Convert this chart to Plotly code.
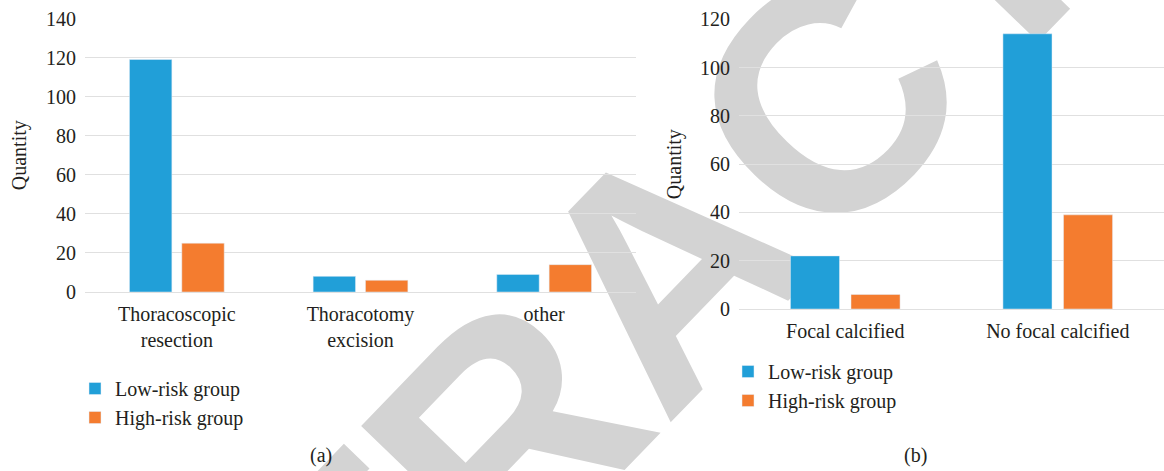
import plotly.graph_objects as go

# ---------------- data ----------------
cat_a = ["Thoracoscopic<br>resection", "Thoracotomy<br>excision", "other"]
low_a = [119, 8, 9]
high_a = [25, 6, 14]

cat_b = ["Focal calcified", "No focal calcified"]
low_b = [22, 114]
high_b = [6, 39]

series_names = ["Low-risk group", "High-risk group"]
ticks_a = [0, 20, 40, 60, 80, 100, 120, 140]
ticks_b = [0, 20, 40, 60, 80, 100, 120]

# ---------------- style ----------------
W, H = 1164, 471
BLUE = "#219fd8"
ORANGE = "#f47c2f"
GRID = "#e0e0e0"
TXT = "#231f20"
SERIF = "Liberation Serif"
FS = 20

def px(x):
    return x / W

def py(y):
    return 1 - y / H

fig = go.Figure()

fig.add_trace(go.Bar(x=cat_a, y=low_a, name=series_names[0], marker_color=BLUE,
                     xaxis="x", yaxis="y", legend="legend"))
fig.add_trace(go.Bar(x=cat_a, y=high_a, name=series_names[1], marker_color=ORANGE,
                     xaxis="x", yaxis="y", legend="legend"))
fig.add_trace(go.Bar(x=cat_b, y=low_b, name=series_names[0], marker_color=BLUE,
                     xaxis="x2", yaxis="y2", legend="legend2"))
fig.add_trace(go.Bar(x=cat_b, y=high_b, name=series_names[1], marker_color=ORANGE,
                     xaxis="x2", yaxis="y2", legend="legend2"))

axis_font = dict(family=SERIF, size=FS, color=TXT)

common_x = dict(showgrid=False, showline=False, zeroline=False, ticks="",
                tickfont=axis_font, ticklabelstandoff=8, fixedrange=True,
                automargin=False)
common_y = dict(showgrid=True, gridcolor=GRID, gridwidth=1.3, zeroline=True,
                zerolinecolor=GRID, zerolinewidth=1.3, showline=False, ticks="",
                tickfont=axis_font, ticklabelstandoff=8, fixedrange=True,
                automargin=False)

legend_common = dict(font=dict(family=SERIF, size=FS, color=TXT),
                     bgcolor="rgba(0,0,0,0)", orientation="v",
                     xanchor="left", yanchor="top", tracegroupgap=0,
                     itemclick=False, itemdoubleclick=False)

fig.update_layout(
    width=W, height=H,
    margin=dict(l=0, r=0, t=0, b=0, pad=0, autoexpand=False),
    paper_bgcolor="white", plot_bgcolor="rgba(0,0,0,0)",
    barmode="group", bargap=0.43, bargroupgap=0.19,
    showlegend=True,
    xaxis=dict(domain=[px(85), px(636)], anchor="y", **common_x),
    yaxis=dict(domain=[py(292), py(18.5)], anchor="x", range=[0, 140],
               tickvals=ticks_a,
               title=dict(text="Quantity", font=axis_font, standoff=14),
               **common_y),
    xaxis2=dict(domain=[px(739), px(1164)], anchor="y2", **common_x),
    yaxis2=dict(domain=[py(309), py(19.3)], anchor="x2", range=[0, 120],
                tickvals=ticks_b,
                title=dict(text="Quantity", font=axis_font, standoff=12),
                **common_y),
    legend=dict(x=px(75), y=py(369), **legend_common),
    legend2=dict(x=px(728), y=py(352), **legend_common),
    annotations=[
        dict(text="(a)", x=px(321), y=py(455), xref="paper", yref="paper",
             xanchor="center", yanchor="middle",
             showarrow=False, font=dict(family=SERIF, size=FS, color=TXT)),
        dict(text="(b)", x=px(915), y=py(455), xref="paper", yref="paper",
             xanchor="center", yanchor="middle",
             showarrow=False, font=dict(family=SERIF, size=FS, color=TXT)),
    ],
    shapes=[
        dict(type="rect", xref="paper", yref="paper",
             x0=px(594), x1=px(694), y0=py(297), y1=py(197),
             line=dict(width=0), fillcolor="rgba(0,0,0,0)", layer="below",
             label=dict(text="<b>RETRACTED</b>", textangle=-46,
                        textposition="middle center",
                        font=dict(family="Liberation Sans", size=320,
                                  color="#d3d3d3", weight="bold"))),
    ],
)

fig.write_html("out.html", config={"displayModeBar": False})
